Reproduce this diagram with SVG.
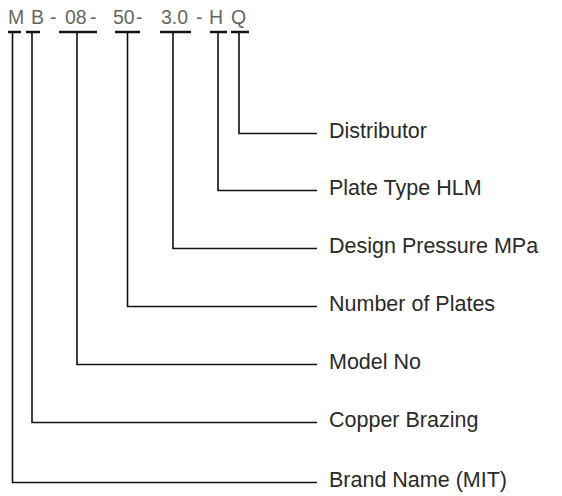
<svg xmlns="http://www.w3.org/2000/svg" width="562" height="496" viewBox="0 0 562 496">
<style>
.code{font-family:"Liberation Sans",Arial,sans-serif;font-size:19.5px;fill:#666}
.lbl{font-family:"Liberation Sans",Arial,sans-serif;font-size:21.5px;fill:#2a2a2a}
.bar{stroke:#111;stroke-width:2.5;fill:none}
.ln{stroke:#111;stroke-width:1.6;fill:none}
</style>
<rect width="562" height="496" fill="#fff"/>
<g id="code">
<text class="code" y="24"><tspan x="8">M</tspan><tspan x="31">B</tspan><tspan x="50">-</tspan><tspan x="65">08</tspan><tspan x="90">-</tspan><tspan x="113">50</tspan><tspan x="136">-</tspan><tspan x="161">3.0</tspan><tspan x="196">-</tspan><tspan x="209">H</tspan><tspan x="231">Q</tspan></text>
</g>
<g id="connectors">
<path class="bar" d="M8 32H21M26 32H40M59 32H97M115 32H140M160 32H191M210 32H227M231 32H249"/>
<path class="ln" d="M239 32V133.5H317"/>
<path class="ln" d="M218 32V190.5H317"/>
<path class="ln" d="M173 32V248.5H317"/>
<path class="ln" d="M127.5 32V306.5H317"/>
<path class="ln" d="M77 32V364.5H317"/>
<path class="ln" d="M32 32V422.5H317"/>
<path class="ln" d="M12.5 32V482.5H317"/>
</g>
<g id="distributor"><text class="lbl" x="329" y="138">Distributor</text></g>
<g id="plate-type"><text class="lbl" x="329" y="195">Plate Type HLM</text></g>
<g id="design-pressure"><text class="lbl" x="329" y="253">Design Pressure MPa</text></g>
<g id="number-of-plates"><text class="lbl" x="329" y="311">Number of Plates</text></g>
<g id="model-no"><text class="lbl" x="329" y="369">Model No</text></g>
<g id="copper-brazing"><text class="lbl" x="329" y="427">Copper Brazing</text></g>
<g id="brand-name"><text class="lbl" x="329" y="487">Brand Name (MIT)</text></g>
</svg>
